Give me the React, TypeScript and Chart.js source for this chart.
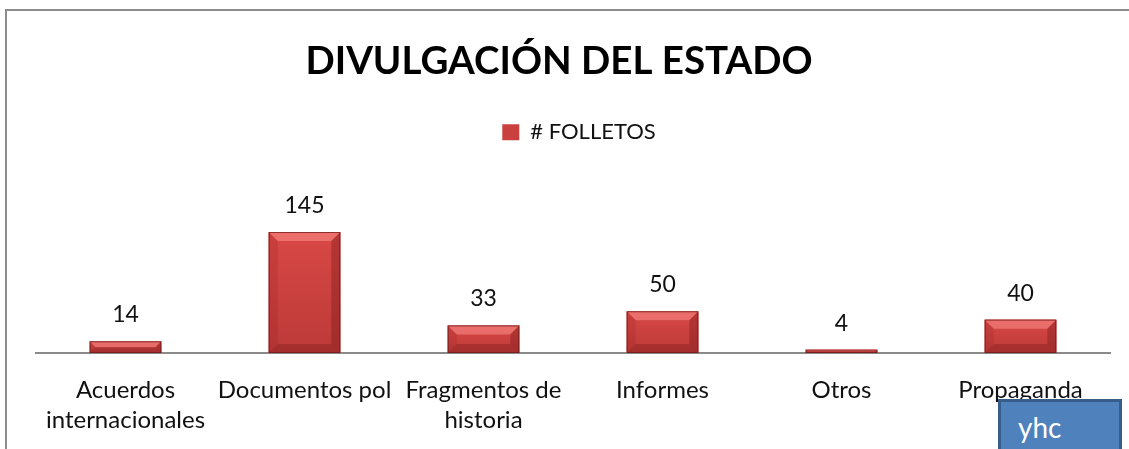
import React, { useEffect, useRef } from "react";
import { Chart, registerables } from "chart.js";

Chart.register(...registerables);

const titleText = "DIVULGACIÓN DEL ESTADO";
const seriesName = "# FOLLETOS";
const categories: (string | string[])[] = [
  ["Acuerdos", "internacionales"],
  "Documentos pol",
  ["Fragmentos de", "historia"],
  "Informes",
  "Otros",
  "Propaganda",
];
const folletos = [14, 145, 33, 50, 4, 40];
const yMax = 160;
const noteText = "yhc";

const FONT = "Lato, 'Open Sans', sans-serif";

const TITLE_PAD_TOP = 38;
const TITLE_PAD_BOTTOM = 26;
const TITLE_SIZE = 38.5;
const PLOT_TOP = 219.5;
const TITLE_SHIFT = -14;
const LEGEND_SHIFT = 6;

const layoutPlugin = {
  id: "layoutTweaks",
  beforeLayout(chart: any) {
    const lg = chart.legend;
    if (lg && !lg.__patched) {
      const orig = lg.fit.bind(lg);
      lg.fit = function () {
        orig();
        this.height = PLOT_TOP - (TITLE_PAD_TOP + TITLE_SIZE * 1.2 + TITLE_PAD_BOTTOM);
      };
      lg.__patched = true;
    }
  },
  afterLayout(chart: any) {
    const tb = chart.titleBlock;
    if (tb) {
      tb.left += TITLE_SHIFT;
      tb.right += TITLE_SHIFT;
    }
    const lg = chart.legend;
    if (lg) {
      lg.left += LEGEND_SHIFT;
      lg.right += LEGEND_SHIFT;
    }
  },
};

const bevelPlugin = {
  id: "bevelBars",
  afterDatasetsDraw(chart: any) {
    const ctx: CanvasRenderingContext2D = chart.ctx;
    const meta = chart.getDatasetMeta(0);
    const values = chart.data.datasets[0].data as number[];
    meta.data.forEach((bar: any, i: number) => {
      const p = bar.getProps(["x", "y", "base", "width"], true);
      const l = p.x - p.width / 2;
      const r = p.x + p.width / 2;
      const t = Math.min(p.y, p.base);
      const b = Math.max(p.y, p.base);
      const h = b - t;
      const w = r - l;
      const d = Math.min(9, h / 2, w / 2);
      ctx.save();
      const g = ctx.createLinearGradient(0, t, 0, b);
      g.addColorStop(0, "#D84846");
      g.addColorStop(1, "#BC3A38");
      ctx.fillStyle = g;
      ctx.fillRect(l, t, w, h);
      const poly = (pts: number[][], color: string) => {
        ctx.beginPath();
        ctx.moveTo(pts[0][0], pts[0][1]);
        for (let k = 1; k < pts.length; k++) ctx.lineTo(pts[k][0], pts[k][1]);
        ctx.closePath();
        ctx.fillStyle = color;
        ctx.fill();
      };
      poly([[l, t], [r, t], [r - d, t + d], [l + d, t + d]], "rgba(255,150,145,0.5)");
      poly([[l, t], [l + d, t + d], [l + d, b - d], [l, b]], "rgba(120,20,20,0.15)");
      poly([[r, t], [r, b], [r - d, b - d], [r - d, t + d]], "rgba(90,10,10,0.28)");
      poly([[l, b], [r, b], [r - d, b - d], [l + d, b - d]], "rgba(90,10,10,0.25)");
      ctx.strokeStyle = "rgba(110,25,25,0.75)";
      ctx.lineWidth = 1;
      ctx.strokeRect(l + 0.5, t + 0.5, w - 1, h - 1);
      ctx.fillStyle = "#111";
      ctx.font = `23px ${FONT}`;
      ctx.textAlign = "center";
      ctx.textBaseline = "alphabetic";
      ctx.fillText(String(values[i]), p.x, t - 19);
      ctx.restore();
    });
  },
};

export default function App() {
  const ref = useRef<HTMLCanvasElement | null>(null);
  useEffect(() => {
    if (!ref.current) return;
    const chart = new Chart(ref.current, {
      type: "bar",
      data: {
        labels: categories,
        datasets: [
          {
            label: seriesName,
            data: folletos,
            backgroundColor: "#C9403E",
            borderColor: "#8E2A28",
            borderWidth: 0,
            categoryPercentage: 1,
            barPercentage: 0.4,
          },
        ],
      },
      options: {
        animation: false,
        responsive: false,
        devicePixelRatio: 1,
        layout: { padding: { left: 36, right: 19, top: 0, bottom: 0 } },
        plugins: {
          title: {
            display: true,
            text: titleText,
            color: "#000",
            font: { family: FONT, size: TITLE_SIZE, weight: "bold", lineHeight: 1.2 },
            padding: { top: TITLE_PAD_TOP, bottom: TITLE_PAD_BOTTOM },
          },
          legend: {
            display: true,
            position: "top",
            labels: {
              color: "#111",
              font: { family: FONT, size: 22 },
              boxWidth: 17,
              boxHeight: 16,
              padding: 11,
            },
          },
          tooltip: { enabled: false },
        },
        scales: {
          x: {
            grid: { display: false, drawTicks: false },
            border: { display: true, color: "#8A8A8A", width: 2 },
            ticks: {
              color: "#111",
              font: { family: FONT, size: 24, lineHeight: 1.25 },
              padding: 22,
              maxRotation: 0,
              autoSkip: false,
            },
            afterFit: (scale: any) => {
              scale.height = 96;
            },
          },
          y: {
            display: false,
            min: 0,
            max: yMax,
          },
        },
      },
      plugins: [layoutPlugin, bevelPlugin],
    });
    return () => chart.destroy();
  }, []);

  return (
    <div
      style={{
        position: "absolute",
        left: 0,
        top: 0,
        width: 1129,
        height: 449,
        overflow: "hidden",
        background: "#fff",
      }}
    >
      <div
        style={{
          position: "absolute",
          left: 5,
          top: 9,
          width: 1300,
          height: 700,
          border: "2px solid #8C8C8C",
          boxSizing: "border-box",
        }}
      />
      <canvas
        ref={ref}
        width={1129}
        height={449}
        style={{ position: "absolute", left: 0, top: 0, width: 1129, height: 449 }}
      />
      <div
        style={{
          position: "absolute",
          left: 998,
          top: 399,
          width: 124,
          height: 80,
          background: "#4F81BD",
          border: "3px solid #385D8A",
          boxSizing: "border-box",
          color: "#fff",
          fontFamily: FONT,
          fontSize: 28,
          lineHeight: "28px",
          paddingTop: 11,
          paddingLeft: 17,
        }}
      >
        {noteText}
      </div>
    </div>
  );
}
